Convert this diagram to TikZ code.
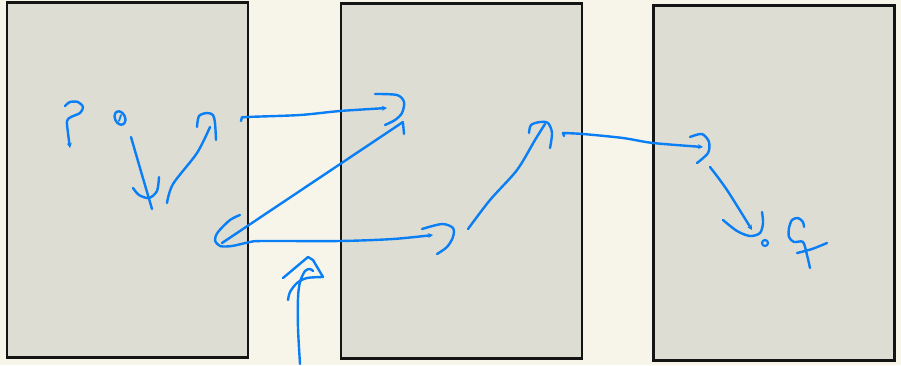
\documentclass[tikz,border=0pt]{standalone}
\usetikzlibrary{arrows.meta}
\definecolor{paper}{HTML}{F7F5E9}
\definecolor{sheet}{HTML}{DDDDD3}
\definecolor{pen}{HTML}{0A7EF5}
\begin{document}
\begin{tikzpicture}[x=1pt, y=-1pt,
    sheetbox/.style={draw=black!92, line width=2.2pt, fill=sheet, minimum width=241pt, minimum height=355pt, inner sep=0pt, outer sep=0pt},
    ink/.style={draw=pen, line width=2.4pt, line cap=round, line join=round},
    arrowed/.style={-{Stealth[length=5pt, width=5pt]}}]
    \fill[paper] (0,0) rectangle (901,365);
    \useasboundingbox (0,0) rectangle (901,365);

    \node[sheetbox] (page1) at (127.5,180) {};
    \node[sheetbox] (page2) at (461.5,181) {};
    \node[sheetbox] (page3) at (774,183) {};

    % first sheet
    \draw[ink, arrowed] plot[smooth] coordinates {(65,106) (70,102) (78,102) (83,107) (80,113) (71,117) (67,121) (68,133) (70,148)};
    \draw[ink, rotate around={25:(120,118)}] (120,118) ellipse [x radius=5pt, y radius=7pt];
    \draw[ink, line width=1.8pt] (119,121) -- (121,115);
    \draw[ink] plot[smooth] coordinates {(131,137) (140,168) (152,209)};
    \draw[ink] plot[smooth] coordinates {(133,188) (139,195) (149,198) (157,191) (159,177)};
    \draw[ink] plot[smooth] coordinates {(167,203) (173,184) (197,153) (210,127)};
    \draw[ink] plot[smooth] coordinates {(197,127) (199,116) (207,113) (213,115) (215,123) (216,140)};

    % across to the second sheet
    \draw[ink, arrowed] plot[smooth] coordinates {(241,121) (242,118) (247,117) (300,115) (340,111) (387,108)};
    \draw[ink] plot[smooth] coordinates {(375,94) (397,95) (404,102) (402,113) (395,120) (385,125)};
    \draw[ink] (403,123) -- (404,134);
    \draw[ink] (403,122) -- (222,243);
    \draw[ink, arrowed] plot[smooth] coordinates {(240,215) (230,220) (218,232) (215,240) (220,246) (232,246) (250,242) (263,241) (340,241) (393,239) (433,235)};
    \draw[ink] plot[smooth] coordinates {(422,229) (442,224) (453,228) (453,237) (447,247) (437,254)};

    % arrow from below
    \draw[ink] plot[smooth] coordinates {(300,364) (298,328) (298,298) (300,282) (305,271) (310,269) (313,271)};
    \draw[ink] plot[smooth] coordinates {(288,300) (290,292) (297,283) (307,278) (323,277)};
    \draw[ink] (283,278) -- (308,257) -- (313,260) -- (323,277);

    % second sheet
    \draw[ink] plot[smooth] coordinates {(468,229) (490,200) (517,170) (535,140) (545,124)};
    \draw[ink] plot[smooth] coordinates {(529,133) (531,125) (540,122) (548,123) (552,133) (550,148)};
    \draw[ink] (563,133) -- (564,136);
    \draw[ink, arrowed] plot[smooth] coordinates {(563,133) (583,134) (623,138) (653,143) (703,147)};
    \draw[ink] plot[smooth] coordinates {(690,137) (702,134) (709,142) (708,153) (697,163)};

    % third sheet
    \draw[ink, arrowed] plot[smooth] coordinates {(710,167) (727,190) (752,230)};
    \draw[ink] plot[smooth] coordinates {(723,220) (737,231) (750,236) (760,233) (763,223) (762,212)};
    \draw[ink, line width=2.2pt] (765,243) circle (3pt);
    \draw[ink] plot[smooth] coordinates {(804,227) (803,222) (798,218) (792,220) (789,228) (789,237) (794,242) (803,242) (807,255) (810,268)};
    \draw[ink] plot[smooth] coordinates {(797,253) (812,249) (827,243)};
\end{tikzpicture}
\end{document}
